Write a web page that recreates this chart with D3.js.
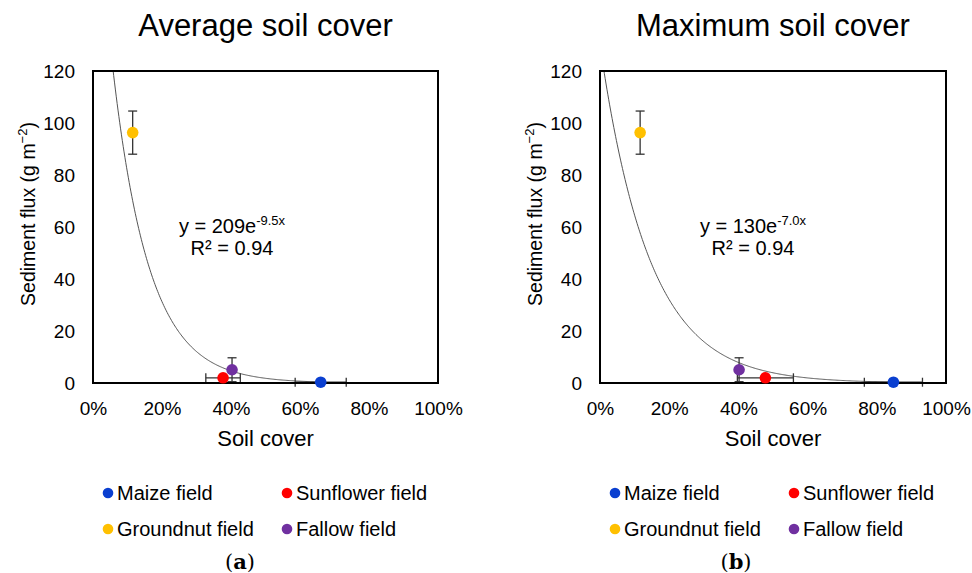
<!DOCTYPE html>
<html>
<head>
<meta charset="utf-8">
<script src="https://cdn.jsdelivr.net/npm/d3@7"></script>
<style>
  body { margin: 0; background: #fff; }
  svg { font-family: 'Liberation Sans', Arial, sans-serif; }
</style>
</head>
<body>
<div id="root"></div>
<script>
const WIDTH = 972
const HEIGHT = 573

// data
const fields = ['Maize field', 'Sunflower field', 'Groundnut field', 'Fallow field']
const fieldColors = ['#0a3fd0', '#ff0000', '#ffc000', '#7030a0']
const flux = [0.3, 2.0, 96.3, 5.1]
const fluxErr = [0, 0, 8.3, 4.6]
const coverAvg = [0.66, 0.377, 0.115, 0.403]
const coverAvgErr = [0.074, 0.05, 0, 0]
const coverMax = [0.848, 0.478, 0.116, 0.402]
const coverMaxErr = [0.084, 0.081, 0, 0]
const yTicks = [0, 20, 40, 60, 80, 100, 120]
const xTicks = [0, 0.2, 0.4, 0.6, 0.8, 1.0]

const panels = [
  { title: 'Average soil cover', cover: coverAvg, coverErr: coverAvgErr, a: 209, b: 9.5, bLabel: '9.5', aLabel: '209', caption: 'a', left: 93, right: 438, fitEnd: 0.66, eqX: 232, capX: 240 },
  { title: 'Maximum soil cover', cover: coverMax, coverErr: coverMaxErr, a: 130, b: 7.0, bLabel: '7.0', aLabel: '130', caption: 'b', left: 600, right: 946, fitEnd: 0.85, eqX: 753, capX: 736 }
]

const TOP = 71
const BOTTOM = 383
const FONT = 'Liberation Sans, Arial, sans-serif'

const svg = d3.select('#root')
  .append('svg')
  .attr('width', WIDTH)
  .attr('height', HEIGHT)

panels.forEach((p, pi) => {
  const x = d3.scaleLinear().domain([0, 1]).range([p.left, p.right])
  const y = d3.scaleLinear().domain([0, 120]).range([BOTTOM, TOP])
  const cx = (p.left + p.right) / 2
  const g = svg.append('g')

  const clipId = 'clip' + pi
  g.append('clipPath').attr('id', clipId)
    .append('rect')
    .attr('x', p.left).attr('y', TOP)
    .attr('width', p.right - p.left).attr('height', BOTTOM - TOP)

  // title
  g.append('text')
    .attr('x', cx).attr('y', 36)
    .attr('text-anchor', 'middle')
    .style('font-size', '31px')
    .text(p.title)

  // y axis tick labels
  const yAxis = d3.axisLeft(y).tickValues(yTicks).tickSize(0).tickPadding(18)
  const ya = g.append('g')
    .attr('transform', `translate(${p.left},0)`)
    .call(yAxis)
  ya.select('.domain').remove()
  ya.selectAll('text').style('font-size', '19px').style('font-family', FONT).attr('fill', '#000')

  // x axis tick labels
  const xAxis = d3.axisBottom(x).tickValues(xTicks).tickSize(0).tickPadding(19).tickFormat(d3.format('.0%'))
  const xa = g.append('g')
    .attr('transform', `translate(0,${BOTTOM})`)
    .call(xAxis)
  xa.select('.domain').remove()
  xa.selectAll('text').style('font-size', '19px').style('font-family', FONT).attr('fill', '#000')

  // axis titles
  g.append('text')
    .attr('x', cx).attr('y', 446)
    .attr('text-anchor', 'middle')
    .style('font-size', '22px')
    .text('Soil cover')

  const yl = g.append('text')
    .attr('transform', `translate(${p.left - 58},214) rotate(-90)`)
    .attr('text-anchor', 'middle')
    .style('font-size', '19.5px')
  yl.append('tspan').text('Sediment flux (g m')
  yl.append('tspan').attr('dy', -8).style('font-size', '13px').text('−2')
  yl.append('tspan').attr('dy', 8).text(')')

  // fitted curve
  const fitPts = d3.range(0, p.fitEnd + 0.0001, 0.0025)
  const line = d3.line()
    .x(d => x(d))
    .y(d => y(p.a * Math.exp(-p.b * d)))
  g.append('path')
    .datum(fitPts)
    .attr('clip-path', `url(#${clipId})`)
    .attr('d', line)
    .attr('fill', 'none')
    .attr('stroke', '#555')
    .attr('stroke-width', 1)

  // equation
  const eq = g.append('text')
    .attr('x', p.eqX).attr('y', 233)
    .attr('text-anchor', 'middle')
    .style('font-size', '20px')
  eq.append('tspan').text(`y = ${p.aLabel}e`)
  eq.append('tspan').attr('dy', -8).style('font-size', '13px').text(`-${p.bLabel}x`)
  g.append('text')
    .attr('x', p.eqX).attr('y', 255)
    .attr('text-anchor', 'middle')
    .style('font-size', '20px')
    .text('R² = 0.94')

  // error bars
  const idx = d3.range(fields.length)
  const CAP = 4.5
  const ERR = '#333'
  idx.forEach(i => {
    const px = x(p.cover[i]), py = y(flux[i])
    if (fluxErr[i] > 0) {
      const y0 = y(flux[i] - fluxErr[i]), y1 = y(flux[i] + fluxErr[i])
      g.append('line').attr('x1', px).attr('x2', px).attr('y1', Math.min(y0, BOTTOM)).attr('y2', y1).attr('stroke', ERR).attr('stroke-width', 1.3)
      g.append('line').attr('x1', px - CAP).attr('x2', px + CAP).attr('y1', y1).attr('y2', y1).attr('stroke', ERR).attr('stroke-width', 1.3)
      if (y0 < BOTTOM) g.append('line').attr('x1', px - CAP).attr('x2', px + CAP).attr('y1', y0).attr('y2', y0).attr('stroke', ERR).attr('stroke-width', 1.3)
    }
    if (p.coverErr[i] > 0) {
      const x0 = x(p.cover[i] - p.coverErr[i]), x1 = x(p.cover[i] + p.coverErr[i])
      g.append('line').attr('x1', x0).attr('x2', x1).attr('y1', py).attr('y2', py).attr('stroke', ERR).attr('stroke-width', 1.3)
      ;[x0, x1].forEach(xx => {
        g.append('line').attr('x1', xx).attr('x2', xx).attr('y1', py - CAP).attr('y2', py + CAP).attr('stroke', ERR).attr('stroke-width', 1.3)
      })
    }
  })

  // frame
  g.append('rect')
    .attr('x', p.left).attr('y', TOP)
    .attr('width', p.right - p.left).attr('height', BOTTOM - TOP)
    .attr('fill', 'none')
    .attr('stroke', '#000')
    .attr('stroke-width', 2)

  // points
  g.selectAll('circle.pt')
    .data(idx)
    .enter()
    .append('circle')
    .attr('class', 'pt')
    .attr('cx', i => x(p.cover[i]))
    .attr('cy', i => y(flux[i]))
    .attr('r', 5.8)
    .attr('fill', i => fieldColors[i])

  // legend
  const legX = [p.left + 15, p.left + 194]
  const legY = [493, 529]
  const leg = g.selectAll('g.leg')
    .data(idx)
    .enter()
    .append('g')
    .attr('class', 'leg')
    .attr('transform', i => `translate(${legX[i % 2]},${legY[Math.floor(i / 2)]})`)
  leg.append('circle').attr('cx', 0).attr('cy', 0).attr('r', 5.3).attr('fill', i => fieldColors[i])
  leg.append('text').attr('x', 9).attr('y', 7).style('font-size', '20px').text(i => fields[i])

  // caption
  const cap = g.append('text')
    .attr('x', p.capX).attr('y', 569)
    .attr('text-anchor', 'middle')
    .style('font-family', 'DejaVu Serif, Liberation Serif, serif')
    .style('font-size', '21px')
  cap.append('tspan').text('(')
  cap.append('tspan').style('font-weight', 'bold').text(p.caption)
  cap.append('tspan').text(')')
})
</script>
</body>
</html>
